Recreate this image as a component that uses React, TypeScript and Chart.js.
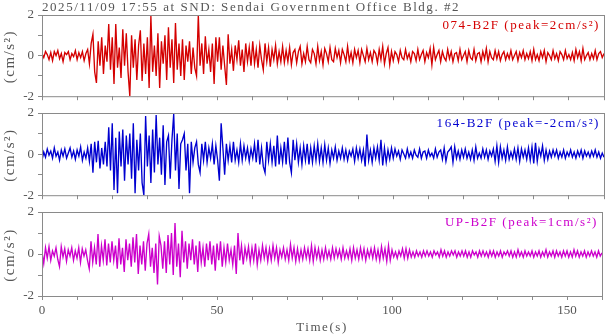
import { useEffect, useRef } from "react";
import { Chart, registerables } from "chart.js";
Chart.register(...registerables);

// ---------- data ----------
const TITLE = "2025/11/09 17:55 at SND: Sendai Government Office Bldg. #2";
const Y_UNIT = "(cm/s²)";
const X_TITLE = "Time(s)";
const DT = 0.5; // sample interval of the traces (s)
const X_MIN = 0;
const X_MAX = 160;
const X_TICK_LABELS = [0, 50, 100, 150];
const Y_TICK_LABELS = [-2, 0, 2];

const CH_NAMES = ["074-B2F (peak=2cm/s²)", "164-B2F (peak=-2cm/s²)", "UP-B2F (peak=1cm/s²)"];

// 074-B2F, every 0.5 s from 0 to 160 s
const TRACE_074 = [
  0.1, -0.1, 0.2, 0.05, -0.2, 0.15, -0.25, 0.2, 0.0, 0.25, -0.15, 0.1, -0.3, 0.15, 0.05, 0.2, -0.2, 0.1, -0.05, 0.25,
  -0.2, 0.15, -0.1, 0.2, -0.25, 0.1, 0.3, -0.4, 0.6, 1.05, -0.8, -1.35, 0.7, -0.5, 0.9, -0.9, 0.5, -0.3, 1.55, -0.7,
  0.9, -1.4, 1.55, -0.6, 0.4, -1.1, 1.3, -0.5, 1.1, -0.8, -2.0, 1.0, -0.6, 0.8, -1.2, 0.5, 1.25, -1.25, 0.6, -0.9,
  0.9, -1.6, 1.95, -0.8, 0.5, -1.0, 1.1, -1.6, 0.7, -0.4, 1.0, -1.2, 1.4, -0.6, 0.8, -1.35, 1.6, -0.7, 0.6, -1.0,
  0.8, -1.2, 0.5, -0.3, 0.7, -0.9, 0.4, -0.6, -1.0, 2.0, -0.5, 0.6, -0.9, 0.95, -0.4, 0.3, -0.8, 0.6, -1.4, 0.9,
  -0.3, 0.9, -0.7, 0.5, -0.5, -1.45, 1.05, -0.4, 0.3, -0.75, 0.5, -0.2, 0.75, -0.5, 0.3, -0.8, 0.6, -0.3, 0.4, -0.5,
  0.7, -0.4, 0.3, -0.6, 0.5, -0.2, -0.7, 0.6, -0.3, 0.4, -0.55, 0.3, -0.2, 0.5, -0.4, 0.2, -0.3, 0.45, -0.35, 0.25,
  -0.3, 0.4, -0.45, 0.15, 0.3, -0.35, 0.2, 0.45, -0.4, 0.1, -0.3, 0.45, -0.2, -0.35, 0.3, 0.1, -0.4, 0.45, -0.25, 0.2,
  -0.45, 0.35, 0.1, -0.3, 0.4, -0.2, -0.3, 0.35, -0.1, 0.25, -0.35, 0.3, 0.05, -0.3, 0.45, -0.25, 0.15, -0.35, 0.3, -0.1,
  0.25, -0.35, 0.3, 0.0, -0.3, 0.35, -0.2, 0.15, -0.3, 0.25, 0.1, -0.35, 0.3, -0.2, 0.45, -0.4, 0.1, 0.4, -0.45, 0.2,
  -0.25, 0.2, 0.05, -0.3, 0.25, -0.1, -0.2, 0.3, -0.15, 0.1, -0.3, 0.2, 0.1, -0.25, 0.3, -0.2, 0.05, 0.25, -0.3, 0.15,
  -0.1, 0.35, -0.45, 0.4, -0.2, 0.05, 0.25, -0.3, 0.2, -0.1, -0.25, 0.3, -0.15, 0.2, -0.3, 0.1, 0.15, -0.25, 0.3, -0.2,
  0.0, 0.2, -0.3, 0.25, -0.1, -0.2, 0.3, -0.25, 0.1, 0.15, -0.3, 0.2, -0.15, 0.35, -0.3, 0.2, -0.1, -0.2, 0.25, -0.15,
  0.2, -0.25, 0.05, 0.2, -0.2, 0.1, -0.15, 0.25, -0.2, 0.0, 0.2, -0.25, 0.15, -0.1, 0.25, -0.2, 0.1, -0.15, 0.2, -0.25,
  0.3, -0.2, 0.05, -0.25, 0.2, -0.1, 0.25, -0.3, 0.15, 0.0, -0.2, 0.25, -0.15, 0.1, -0.25, 0.2, 0.05, -0.2, 0.25, -0.15,
  0.05, -0.2, 0.15, -0.25, 0.3, -0.1, 0.2, -0.25, 0.35, -0.2, 0.0, 0.15, -0.2, 0.1, -0.15, 0.25, -0.2, 0.1, 0.2, -0.1,
  0.1,
];

// 164-B2F
const TRACE_164 = [
  -0.3, 0.1, -0.15, 0.25, -0.05, 0.15, -0.2, 0.3, -0.1, 0.1, -0.3, 0.2, -0.1, 0.25, -0.2, 0.05, 0.3, -0.15, 0.15, -0.25,
  0.2, -0.1, 0.35, -0.3, 0.1, -0.2, 0.3, -0.35, 0.5, -0.9, 0.6, -0.4, 0.65, -0.7, 0.3, -0.5, 0.6, -0.6, 1.3, -0.8,
  1.5, -1.75, 0.8, -1.9, 1.1, -0.6, 1.2, -1.3, 0.9, -0.5, 1.0, -1.2, 1.5, -1.9, 0.7, -0.8, 1.0, -1.4, -2.0, 1.85,
  -0.6, 0.9, -1.4, 1.2, -0.9, 1.9, -0.5, 0.8, -1.0, 1.4, -1.5, 0.6, 0.9, -1.2, 0.7, 1.95, -0.8, 1.0, -1.7, 0.5,
  0.7, 1.0, -0.8, 0.5, -1.9, 0.6, -0.4, 0.3, 0.6, -0.5, -0.9, 0.5, -0.3, 0.6, -0.4, 0.3, -0.2, 0.5, -0.5, 0.4,
  -0.3, -1.3, 1.5, 0.3, -1.0, 0.5, -0.3, 0.4, -0.4, 0.6, -0.3, 0.2, -0.4, 0.5, -0.3, 0.4, -0.2, 0.3, -0.35, 0.25,
  -0.2, 0.5, -0.4, 0.7, -0.5, 0.3, -0.6, -0.9, 0.6, -0.3, 0.5, -0.4, 0.4, -0.6, 0.9, -0.5, 0.3, -0.4, 0.6, -0.5,
  0.8, -0.4, -0.9, 0.7, -0.3, 0.5, -0.4, 0.3, -0.5, 0.4, -0.3, 0.5, -0.5, 0.3, -0.4, 0.4, -0.3, 0.5, -0.35, 0.3,
  -0.4, 0.45, -0.3, 0.3, -0.45, 0.2, -0.2, 0.35, -0.3, 0.15, -0.2, 0.3, -0.25, 0.2, -0.3, 0.15, -0.1, 0.25, -0.35, 0.3,
  -0.2, 0.25, -0.3, 0.2, -0.6, 0.95, -0.3, 0.2, -0.4, 0.3, -0.2, 0.35, -0.3, 0.7, -0.55, 0.3, -0.4, 0.2, -0.25, 0.3,
  -0.2, 0.25, -0.1, 0.15, -0.25, 0.2, 0.0, -0.2, 0.25, -0.15, 0.1, -0.2, 0.2, -0.05, -0.15, 0.25, -0.2, 0.1, 0.15, -0.2,
  0.2, -0.1, 0.05, -0.2, 0.25, -0.15, 0.1, 0.2, -0.25, 0.3, -0.35, 0.1, 0.2, 0.35, -0.4, 0.35, -0.2, 0.15, -0.25, 0.2,
  -0.15, 0.25, -0.2, 0.1, -0.25, 0.2, -0.3, 0.35, -0.2, 0.05, -0.2, 0.25, -0.15, 0.2, -0.25, 0.15, -0.1, 0.25, -0.35, 0.4,
  -0.4, 0.35, -0.2, 0.2, -0.3, 0.35, -0.25, 0.1, -0.2, 0.25, -0.25, 0.3, -0.35, 0.25, -0.15, 0.2, -0.25, 0.3, -0.3, 0.35,
  -0.45, 0.55, -0.35, 0.25, -0.1, 0.4, -0.3, 0.2, -0.25, 0.15, -0.15, 0.2, -0.1, 0.2, -0.2, 0.1, -0.15, 0.2, -0.2, 0.1,
  -0.1, 0.2, -0.15, 0.1, -0.2, 0.15, -0.1, 0.2, -0.2, 0.15, -0.1, 0.1, -0.15, 0.15, -0.1, 0.2, -0.15, 0.1, -0.2, 0.05,
  -0.15,
];

// UP-B2F
const TRACE_UP = [
  0.1, -0.45, 0.3, -0.2, 0.35, -0.3, 0.15, -0.1, 0.3, -0.25, -0.6, 0.35, -0.15, 0.25, -0.35, 0.2, -0.1, 0.3, -0.3, 0.15,
  -0.2, 0.3, -0.4, 0.25, -0.1, 0.2, -0.3, -0.7, 0.6, -0.4, 0.3, -0.5, 0.95, -0.6, 0.4, -0.3, 0.7, -0.55, 0.5, -0.4,
  0.6, -0.3, 0.4, -0.7, 0.75, -0.5, 0.3, -0.85, 0.7, -0.3, 0.5, -0.6, 0.8, -0.4, 0.95, -0.95, 0.4, -0.5, 0.6, -0.8,
  0.5, 0.95, -0.6, 0.3, -0.9, 0.5, -1.45, 0.85, 0.4, -0.7, 0.6, -0.9, 0.9, -0.5, 1.0, -1.0, 1.48, -0.6, 0.5, -1.1,
  1.1, -0.4, 0.6, -0.7, 0.5, -0.3, 0.7, -0.5, 0.4, -0.85, 0.6, -0.4, 0.3, -0.6, 0.5, -0.3, 0.6, -0.5, 0.4, -0.8,
  0.5, -0.3, 0.6, -0.6, 0.3, -0.4, 0.5, -0.3, 0.2, -0.5, 0.4, -0.95, 1.0, -0.3, 0.4, -0.5, 0.3, -0.2, 0.35, -0.4,
  0.3, -0.3, 0.5, -0.5, 0.2, -0.3, 0.4, -0.2, 0.3, -0.35, 0.25, -0.3, 0.4, -0.2, 0.3, -0.4, 0.2, -0.15, 0.3, -0.25,
  0.2, -0.3, 0.45, -0.2, 0.3, -0.35, 0.25, -0.3, 0.2, -0.25, 0.3, -0.2, 0.25, -0.3, 0.4, -0.35, 0.3, -0.2, 0.25, -0.3,
  0.2, -0.25, 0.3, -0.2, 0.15, -0.25, 0.3, -0.2, 0.25, -0.15, 0.2, -0.25, 0.3, -0.2, 0.15, -0.2, 0.25, -0.3, 0.3, -0.2,
  0.2, -0.25, 0.3, -0.2, 0.25, -0.3, 0.2, -0.15, 0.25, -0.2, 0.3, -0.25, 0.2, -0.3, 0.35, -0.2, 0.25, -0.35, 0.4, -0.3,
  0.2, -0.15, 0.1, -0.2, 0.15, -0.1, 0.25, -0.2, 0.25, -0.2, 0.2, -0.15, 0.1, -0.15, 0.15, -0.1, 0.1, -0.15, 0.15, -0.1,
  0.15, -0.1, 0.1, -0.15, 0.15, -0.05, 0.1, -0.15, 0.2, -0.1, 0.15, -0.15, 0.1, -0.1, 0.15, -0.05, 0.15, -0.15, 0.1, -0.1,
  0.15, -0.1, 0.15, -0.15, 0.1, -0.15, 0.15, -0.05, 0.1, -0.15, 0.15, -0.1, 0.15, -0.1, 0.1, -0.15, 0.15, -0.1, 0.15, -0.15,
  0.1, -0.1, 0.15, -0.15, 0.1, -0.05, 0.15, -0.1, 0.15, -0.15, 0.1, -0.15, 0.2, -0.1, 0.1, -0.15, 0.15, -0.1, 0.1, -0.1,
  0.15, -0.15, 0.1, -0.1, 0.15, -0.15, 0.1, -0.1, 0.2, -0.15, 0.1, -0.1, 0.15, -0.15, 0.15, -0.1, 0.1, -0.15, 0.15, -0.1,
  0.15, -0.15, 0.1, -0.15, 0.2, -0.1, 0.15, -0.15, 0.1, -0.1, 0.15, -0.15, 0.1, -0.1, 0.15, -0.1, 0.1, -0.15, 0.15, -0.1,
  0.05,
];

// ---------- style ----------
const COLORS = ["#d40000", "#0000d0", "#cc00cc"];
const FRAME = "#8a8a8a";
const TEXT = "#555555";
const FONT_FAMILY = '"Liberation Serif", "Times New Roman", serif';
const FONT_SIZE = 13;
const SPACING = "1.55px";
const UNIT_FONT_SIZE = 15;
const UNIT_SPACING = "1.5px";

type PanelProps = {
  idx: number;
  values: number[];
  top: number;
  height: number;
  padTop: number;
  xHeight: number;
  showX: boolean;
  showTitle: boolean;
};

function Panel({ idx, values, top, height, padTop, xHeight, showX, showTitle }: PanelProps) {
  const ref = useRef<HTMLCanvasElement>(null);
  useEffect(() => {
    const canvas = ref.current;
    if (!canvas) return;
    const color = COLORS[idx];
    const data = values.map((v, i) => ({ x: i * DT, y: v }));
    const textPlugin = {
      id: "panelText",
      afterDraw(chart: any) {
        const ctx = chart.ctx as CanvasRenderingContext2D;
        const a = chart.chartArea;
        ctx.save();
        ctx.strokeStyle = FRAME;
        ctx.lineWidth = 1;
        ctx.strokeRect(a.left + 0.5, a.top + 0.5, a.right - a.left, a.bottom - a.top);
        ctx.font = `${FONT_SIZE}px ${FONT_FAMILY}`;
        (ctx as any).letterSpacing = SPACING;
        ctx.fillStyle = color;
        ctx.textAlign = "right";
        ctx.textBaseline = "alphabetic";
        ctx.fillText(CH_NAMES[idx], a.right - 4, a.top + 14);
        ctx.fillStyle = TEXT;
        if (showTitle) {
          ctx.textAlign = "left";
          ctx.fillText(TITLE, a.left, 11);
        }
        if (showX) {
          ctx.textAlign = "center";
          ctx.fillText(X_TITLE, (a.left + a.right) / 2, chart.height - 3);
        }
        ctx.font = `${UNIT_FONT_SIZE}px ${FONT_FAMILY}`;
        (ctx as any).letterSpacing = UNIT_SPACING;
        ctx.translate(10, (a.top + a.bottom) / 2 + 1);
        ctx.rotate(-Math.PI / 2);
        ctx.textAlign = "center";
        ctx.textBaseline = "middle";
        ctx.fillText(Y_UNIT, 0, 0);
        ctx.restore();
      },
    };
    const tickFont = { family: FONT_FAMILY, size: FONT_SIZE };
    const chart = new Chart(canvas, {
      type: "line",
      data: {
        datasets: [
          {
            data,
            borderColor: color,
            borderWidth: 1.35,
            pointRadius: 0,
            tension: 0,
            fill: false,
          },
        ],
      },
      options: {
        animation: false,
        responsive: false,
        events: [],
        parsing: false as any,
        layout: { padding: { top: padTop, right: 1, left: 0, bottom: 0 } },
        plugins: {
          legend: { display: false },
          tooltip: { enabled: false },
          title: { display: false },
        },
        scales: {
          x: {
            type: "linear",
            min: X_MIN,
            max: X_MAX,
            afterFit: (s: any) => {
              s.height = xHeight;
            },
            grid: { display: true, drawOnChartArea: false, drawTicks: true, tickLength: 4, color: FRAME },
            border: { display: false },
            ticks: {
              display: showX,
              stepSize: 10,
              autoSkip: false,
              maxRotation: 0,
              padding: 3,
              color: TEXT,
              font: tickFont,
              callback: (v: any) => (X_TICK_LABELS.includes(Number(v)) ? String(v) : ""),
            },
          },
          y: {
            type: "linear",
            min: -2,
            max: 2,
            afterFit: (s: any) => {
              s.width = 42;
            },
            grid: { display: true, drawOnChartArea: false, drawTicks: true, tickLength: 4, color: FRAME },
            border: { display: false },
            ticks: {
              stepSize: 1,
              padding: 4,
              color: TEXT,
              font: tickFont,
              callback: (v: any) => (Y_TICK_LABELS.includes(Number(v)) ? String(v) : ""),
            },
          },
        },
      } as any,
      plugins: [textPlugin],
    });
    return () => chart.destroy();
  }, []);
  return (
    <canvas
      ref={ref}
      width={605}
      height={height}
      style={{ position: "absolute", left: 0, top, width: 605, height }}
    />
  );
}

export default function App() {
  return (
    <div style={{ position: "fixed", left: 0, top: 0, width: 605, height: 334, background: "#fff", overflow: "hidden" }}>
      <Panel idx={0} values={TRACE_074} top={0} height={108} padTop={15} xHeight={10} showX={false} showTitle={true} />
      <Panel idx={1} values={TRACE_164} top={101} height={106} padTop={12} xHeight={10} showX={false} showTitle={false} />
      <Panel idx={2} values={TRACE_UP} top={200} height={134} padTop={12} xHeight={38} showX={true} showTitle={false} />
    </div>
  );
}
